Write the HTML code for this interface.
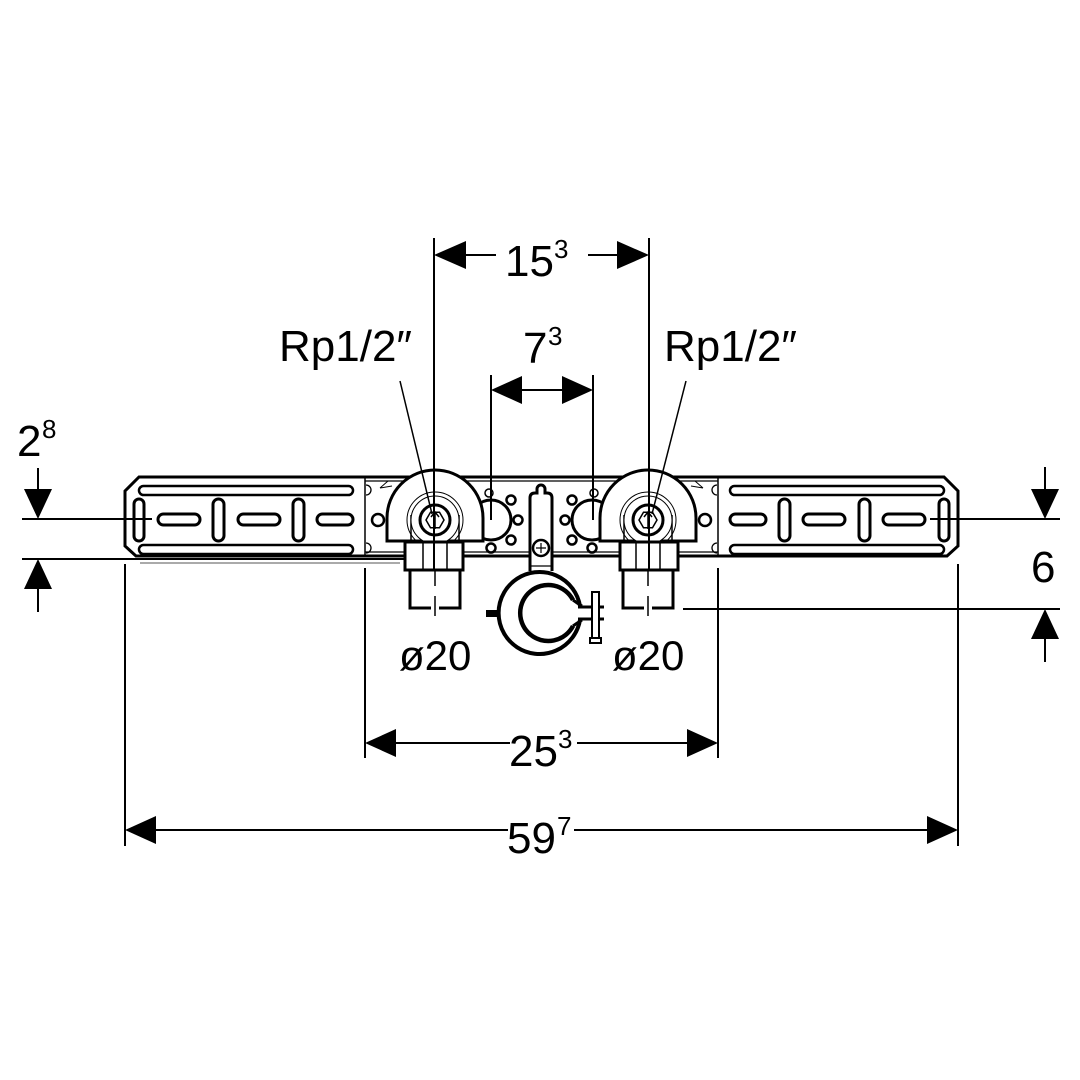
<!DOCTYPE html>
<html><head><meta charset="utf-8"><style>
html,body{margin:0;padding:0;background:#fff;}
svg{display:block;}
text{font-family:"Liberation Sans",Arial,sans-serif;fill:#000;}
</style></head><body>
<svg width="1080" height="1080" viewBox="0 0 1080 1080" xmlns="http://www.w3.org/2000/svg">
<rect width="1080" height="1080" fill="#fff"/>

<!-- main bar outline -->
<path d="M139,477 L944,477 L958,491 L958,546 L947,556 L136,556 L125,546 L125,491 Z" fill="#fff" stroke="#000" stroke-width="3"/>
<line x1="365" y1="481" x2="718" y2="481" stroke="#000" stroke-width="1.2"/>
<line x1="365" y1="552" x2="718" y2="552" stroke="#000" stroke-width="1.2"/>

<!-- left half (mirrored for right) -->
<g id="half">
  <!-- slots -->
  <g fill="#fff" stroke="#000">
    <rect x="139" y="486" width="214" height="9" rx="4.5" stroke-width="2.5"/>
    <rect x="139" y="545" width="214" height="9" rx="4.5" stroke-width="2.5"/>
    <rect x="134" y="499" width="10" height="42" rx="5" stroke-width="3"/>
    <rect x="158" y="514" width="42" height="11" rx="5.5" stroke-width="3"/>
    <rect x="238" y="514" width="42" height="11" rx="5.5" stroke-width="3"/>
    <rect x="317" y="514" width="36" height="11" rx="5.5" stroke-width="3"/>
    <rect x="213" y="499" width="11" height="42" rx="5.5" stroke-width="3"/>
    <rect x="293" y="499" width="11" height="42" rx="5.5" stroke-width="3"/>
  </g>
  <!-- divider + tabs -->
  <line x1="365" y1="477" x2="365" y2="556" stroke="#000" stroke-width="1.5"/>
  <path d="M366,485 A5,5 0 0 1 366,495 M366,543 A5,5 0 0 1 366,553" fill="none" stroke="#000" stroke-width="1.3"/>
  <path d="M380,488 L388,481 M380,488 L392,486" fill="none" stroke="#000" stroke-width="1"/>
  <circle cx="378" cy="520" r="6" fill="#fff" stroke="#000" stroke-width="2.5"/>

  <!-- bubble -->
  <circle cx="491" cy="520" r="20" fill="#fff" stroke="#000" stroke-width="3"/>
  <g fill="#fff" stroke="#000" stroke-width="2.5">
    <circle cx="511" cy="500" r="4.5"/>
    <circle cx="518" cy="520" r="4.5"/>
    <circle cx="511" cy="540" r="4.5"/>
    <circle cx="491" cy="548" r="4.5"/>
    <circle cx="489" cy="493" r="4" stroke-width="1.5"/>
  </g>

  <!-- dome -->
  <path d="M387,541 L387,518 A48,48 0 0 1 483,518 L483,541 Z" fill="#fff" stroke="#000" stroke-width="3"/>
  <line x1="411" y1="515" x2="411" y2="542" stroke="#000" stroke-width="1.5"/>
  <line x1="459" y1="515" x2="459" y2="542" stroke="#000" stroke-width="1.5"/>
  <circle cx="435" cy="520" r="28" fill="none" stroke="#000" stroke-width="1"/>
  <circle cx="435" cy="520" r="24" fill="#fff" stroke="#000" stroke-width="1"/>
  <circle cx="435" cy="520" r="15" fill="#fff" stroke="#000" stroke-width="3"/>
  <polygon points="444,520 439.5,527.8 430.5,527.8 426,520 430.5,512.2 439.5,512.2" fill="#fff" stroke="#000" stroke-width="1.5"/>
  <path d="M435,529 L435,513 M431,517 L435,512 L439,517" fill="none" stroke="#000" stroke-width="1.5"/>

  <!-- body + pipe -->
  <rect x="405" y="542" width="58" height="28" fill="#fff" stroke="#000" stroke-width="3"/>
  <line x1="423" y1="542" x2="423" y2="570" stroke="#000" stroke-width="1.5"/>
  <line x1="447" y1="542" x2="447" y2="570" stroke="#000" stroke-width="1.5"/>
  <path d="M410,570 L410,608 L431,608 M439,608 L460,608 L460,570" fill="none" stroke="#000" stroke-width="3"/>
  <line x1="435" y1="570" x2="435" y2="586" stroke="#000" stroke-width="1.5"/>
  <line x1="435" y1="596" x2="435" y2="616" stroke="#000" stroke-width="1.5"/>
</g>
<use href="#half" transform="translate(1083,0) scale(-1,1)"/>

<!-- center bracket -->
<path d="M530,571 L530,498 Q530,493 535,493 L537,493 L537,489 A4,4 0 0 1 545,489 L545,493 L547,493 Q552,493 552,498 L552,571" fill="#fff" stroke="#000" stroke-width="3"/>
<line x1="530" y1="566" x2="552" y2="566" stroke="#000" stroke-width="1.2"/>
<circle cx="541" cy="548" r="8" fill="#fff" stroke="#000" stroke-width="2.5"/>
<path d="M541,543 L541,553 M536,548 L546,548" stroke="#000" stroke-width="1.2"/>

<!-- clamp ring -->
<path d="M580,606 A41,41 0 1 0 580,620" fill="none" stroke="#000" stroke-width="4"/>
<path d="M573,600 A28,28 0 1 0 573,626" fill="none" stroke="#000" stroke-width="4.5"/>
<path d="M573,600 Q577,603 582,606 M573,626 Q577,623 582,620" fill="none" stroke="#000" stroke-width="3"/>
<line x1="578" y1="607" x2="604" y2="607" stroke="#000" stroke-width="3"/>
<line x1="578" y1="619" x2="604" y2="619" stroke="#000" stroke-width="3"/>
<rect x="592" y="592" width="7" height="49" fill="#fff" stroke="#000" stroke-width="2"/>
<rect x="590" y="638" width="11" height="5" fill="#fff" stroke="#000" stroke-width="2"/>
<rect x="486" y="610" width="14" height="7" fill="#000"/>

<!-- grey line -->
<line x1="140" y1="563" x2="400" y2="563" stroke="#aaa" stroke-width="2"/>

<!-- dimension lines -->
<g stroke="#000" stroke-width="2" fill="none">
  <!-- 15^3 -->
  <line x1="434" y1="238" x2="434" y2="570"/>
  <line x1="649" y1="238" x2="649" y2="570"/>
  <line x1="465" y1="255" x2="496" y2="255"/>
  <line x1="588" y1="255" x2="618" y2="255"/>
  <!-- 7^3 -->
  <line x1="491" y1="375" x2="491" y2="520"/>
  <line x1="593" y1="375" x2="593" y2="520"/>
  <line x1="520" y1="390" x2="564" y2="390"/>
  <!-- Rp leaders -->
  <line x1="400" y1="381" x2="432" y2="514" stroke-width="1.5"/>
  <line x1="686" y1="381" x2="652" y2="514" stroke-width="1.5"/>
  <!-- 2^8 -->
  <line x1="22" y1="519" x2="152" y2="519"/>
  <line x1="22" y1="559" x2="406" y2="559"/>
  <line x1="38" y1="468" x2="38" y2="492"/>
  <line x1="38" y1="588" x2="38" y2="612"/>
  <!-- 6 -->
  <line x1="930" y1="519" x2="1060" y2="519"/>
  <line x1="683" y1="609" x2="1060" y2="609"/>
  <line x1="1045" y1="467" x2="1045" y2="492"/>
  <line x1="1045" y1="637" x2="1045" y2="662"/>
  <!-- 25^3 -->
  <line x1="365" y1="568" x2="365" y2="758"/>
  <line x1="718" y1="568" x2="718" y2="758"/>
  <line x1="395" y1="743" x2="510" y2="743"/>
  <line x1="577" y1="743" x2="688" y2="743"/>
  <!-- 59^7 -->
  <line x1="125" y1="564" x2="125" y2="846"/>
  <line x1="958" y1="564" x2="958" y2="846"/>
  <line x1="155" y1="830" x2="508" y2="830"/>
  <line x1="574" y1="830" x2="928" y2="830"/>
</g>
<g fill="#000">
  <polygon points="434,255 466,241 466,269"/>
  <polygon points="649,255 617,241 617,269"/>
  <polygon points="491,390 522,376 522,404"/>
  <polygon points="593,390 562,376 562,404"/>
  <polygon points="38,519 24,489 52,489"/>
  <polygon points="38,559 24,589 52,589"/>
  <polygon points="1045,519 1031,489 1059,489"/>
  <polygon points="1045,609 1031,639 1059,639"/>
  <polygon points="365,743 396,729 396,757"/>
  <polygon points="718,743 687,729 687,757"/>
  <polygon points="125,830 156,816 156,844"/>
  <polygon points="958,830 927,816 927,844"/>
</g>

<!-- labels -->
<text x="505" y="276" font-size="44">15</text>
<text x="554" y="258" font-size="26">3</text>
<text x="523" y="363" font-size="44">7</text>
<text x="548" y="345" font-size="26">3</text>
<text x="279" y="361" font-size="44">Rp1/2″</text>
<text x="664" y="361" font-size="44">Rp1/2″</text>
<text x="17" y="456" font-size="44">2</text>
<text x="42" y="438" font-size="26">8</text>
<text x="1031" y="582" font-size="44">6</text>
<text x="399" y="670" font-size="42">ø20</text>
<text x="612" y="670" font-size="42">ø20</text>
<text x="509" y="766" font-size="44">25</text>
<text x="558" y="748" font-size="26">3</text>
<text x="507" y="853" font-size="44">59</text>
<text x="557" y="835" font-size="26">7</text>
</svg>
</body></html>
